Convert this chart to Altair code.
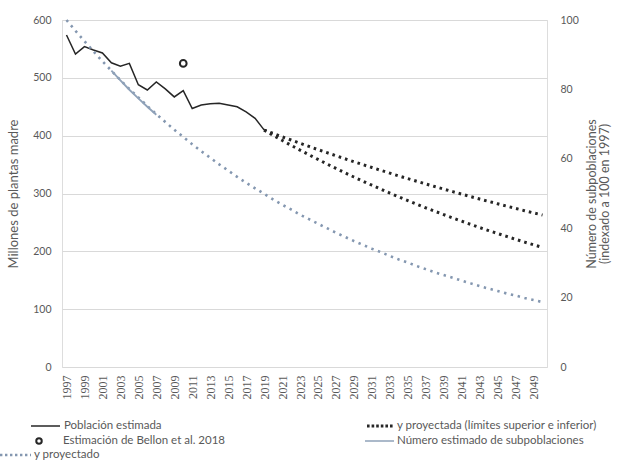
import altair as alt
import pandas as pd

# --- observed population (millions of mother plants), 1997-2019 ---
years_obs = list(range(1997, 2020))
poblacion = [574, 541, 554, 548, 543, 526, 520, 525, 488, 479, 493, 481,
             467, 478, 447, 453, 455, 456, 453, 450, 441, 430, 410]

# --- Bellon et al. 2018 point estimate ---
bellon_year = [2010]
bellon_value = [525]

# --- projected population, upper and lower bounds, 2019-2050 ---
years_proj = list(range(2019, 2051))
proj_superior = [409.7, 403.9, 398.1, 392.5, 386.9, 381.4, 375.9, 370.6,
                 365.3, 360.1, 355.0, 349.9, 345.0, 340.0, 335.2, 330.4,
                 325.7, 321.1, 316.5, 312.0, 307.6, 303.2, 298.9, 294.6,
                 290.4, 286.3, 282.2, 278.2, 274.2, 270.3, 266.5, 262.7]
proj_inferior = [409.7, 400.8, 392.0, 383.4, 375.1, 366.9, 358.9, 351.0,
                 343.4, 335.9, 328.5, 321.4, 314.3, 307.5, 300.8, 294.2,
                 287.8, 281.5, 275.3, 269.3, 263.5, 257.7, 252.1, 246.6,
                 241.2, 235.9, 230.8, 225.8, 220.8, 216.0, 211.3, 206.7]

# --- estimated number of subpopulations (index, 1997 = 100) ---
years_sub = list(range(2002, 2008))
subpoblaciones = [85.4, 82.6, 79.9, 77.4, 75.0, 72.7]

# --- projected subpopulation index, 1997-2050 ---
years_idx = list(range(1997, 2051))
idx_proyectado = [100.0, 96.9, 93.9, 91.0, 88.1, 85.4, 82.7, 80.1, 77.7, 75.2,
                  72.9, 70.6, 68.4, 66.3, 64.2, 62.2, 60.3, 58.4, 56.6, 54.8,
                  53.1, 51.5, 49.9, 48.3, 46.8, 45.4, 43.9, 42.6, 41.3, 40.0,
                  38.7, 37.5, 36.3, 35.2, 34.1, 33.1, 32.0, 31.0, 30.1, 29.1,
                  28.2, 27.3, 26.5, 25.7, 24.9, 24.1, 23.3, 22.6, 21.9, 21.2,
                  20.6, 19.9, 19.3, 18.7]

# --- axis tick labels ---
x_tick_years = list(range(1997, 2050, 2))
left_ticks = [0, 100, 200, 300, 400, 500, 600]
right_ticks = [0, 20, 40, 60, 80, 100]

# --- legend labels ---
lbl_pob = "Población estimada"
lbl_proj = "y proyectada (límites superior e inferior)"
lbl_bellon = "Estimación de Bellon et al. 2018"
lbl_sub = "Número estimado de subpoblaciones"
lbl_idx = "y proyectado"

TEXT = "#595959"
GRID = "#d9d9d9"
BLACK = "#262626"
BLUEGRAY = "#8497b0"
SUBLINE = "#8fa2b9"
FONT = "Lato"

df_pob = pd.DataFrame({"year": years_obs, "v": poblacion})
df_bellon = pd.DataFrame({"year": bellon_year, "v": bellon_value})
df_proj = pd.concat([
    pd.DataFrame({"year": years_proj, "v": proj_superior, "serie": "superior"}),
    pd.DataFrame({"year": years_proj, "v": proj_inferior, "serie": "inferior"}),
])
df_sub = pd.DataFrame({"year": years_sub, "idx": subpoblaciones})
df_idx = pd.DataFrame({"year": years_idx, "idx": idx_proyectado})

x_enc = alt.X(
    "year:Q",
    scale=alt.Scale(domain=[1996.5, 2050.5], nice=False, zero=False),
    axis=alt.Axis(values=x_tick_years, format="d", labelAngle=270,
                  grid=False, domain=False, ticks=False, title=None,
                  labelFont="Liberation Serif", labelFontSize=12,
                  labelColor=TEXT, labelPadding=8, labelOverlap=False),
)

y_left = alt.Y(
    "v:Q",
    scale=alt.Scale(domain=[0, 600], nice=False),
    axis=alt.Axis(values=left_ticks, grid=True, gridColor=GRID, gridWidth=1,
                  domain=False, ticks=False, labelColor=TEXT,
                  labelFontSize=10.5, labelPadding=11, labelFont=FONT,
                  title="Millones de plantas madre", titleColor=TEXT,
                  titleFont=FONT, titleFontSize=13, titleFontWeight="normal",
                  titlePadding=12),
)

y_right = alt.Y(
    "idx:Q",
    scale=alt.Scale(domain=[0, 100], nice=False),
    axis=alt.Axis(orient="right", values=right_ticks, grid=False,
                  domain=False, ticks=False, labelColor=TEXT,
                  labelFontSize=10.5, labelPadding=13, labelFont=FONT,
                  title=["Número de subpoblaciones", "(indexado a 100 en 1997)"],
                  titleColor=TEXT, titleFont=FONT, titleFontSize=12.5,
                  titleFontWeight="normal", titleAngle=270, titlePadding=7,
                  titleLineHeight=13),
)

line_pob = alt.Chart(df_pob).mark_line(color=BLACK, strokeWidth=1.5).encode(
    x=x_enc, y=y_left)

point_bellon = alt.Chart(df_bellon).mark_point(
    filled=False, color=BLACK, size=45, strokeWidth=2, opacity=1
).encode(x=x_enc, y=y_left)

line_proj = alt.Chart(df_proj).mark_line(
    color=BLACK, strokeWidth=3, strokeDash=[2.6, 4]
).encode(x=x_enc, y=y_left, detail="serie:N")

left = alt.layer(line_pob, line_proj, point_bellon)

line_idx = alt.Chart(df_idx).mark_line(
    color=BLUEGRAY, strokeWidth=2.6, strokeDash=[2.4, 4.6]
).encode(x=x_enc, y=y_right)

line_sub = alt.Chart(df_sub).mark_line(color=SUBLINE, strokeWidth=1.8).encode(
    x=x_enc, y=y_right)

right = alt.layer(line_idx, line_sub)

# --- legend drawn below the plot (pixel offsets from the plot origin) ---
one_row = alt.Data(values=[{}])


def leg_text(label, x, y):
    return alt.Chart(one_row).mark_text(
        align="left", baseline="middle", font=FONT, fontSize=11.5, color=TEXT
    ).encode(x=alt.value(x), y=alt.value(y), text=alt.value(label))


def leg_line(x0, x1, y, color, width, dash=None):
    kw = dict(color=color, strokeWidth=width)
    if dash:
        kw["strokeDash"] = dash
    return alt.Chart(one_row).mark_rule(**kw).encode(
        x=alt.value(x0), x2=alt.value(x1), y=alt.value(y))


r1, r2, r3 = 406, 421, 435
legend = alt.layer(
    leg_line(-31, -2, r1, BLACK, 1.5),
    leg_text(lbl_pob, 2, r1),
    leg_line(305, 332, r1, BLACK, 3, [2.6, 2]),
    leg_text(lbl_proj, 335, r1),
    alt.Chart(one_row).mark_point(filled=False, color=BLACK, size=30,
                                  strokeWidth=2, opacity=1).encode(
        x=alt.value(-23), y=alt.value(r2)),
    leg_text(lbl_bellon, 1, r2),
    leg_line(303, 332, r2, SUBLINE, 1.5),
    leg_text(lbl_sub, 335, r2),
    leg_line(-62, -31, r3, BLUEGRAY, 2.6, [2.4, 2.6]),
    leg_text(lbl_idx, -28, r3),
)

chart = alt.layer(left, right, legend).resolve_scale(y="independent").properties(
    width=485, height=347,
    autosize=alt.AutoSizeParams(type="none"),
    padding={"left": 62, "top": 20, "right": 70, "bottom": 101},
).configure_view(stroke=None).configure(background="white", font=FONT)

chart.save("out.html", embed_options={"renderer": "svg", "actions": False})
